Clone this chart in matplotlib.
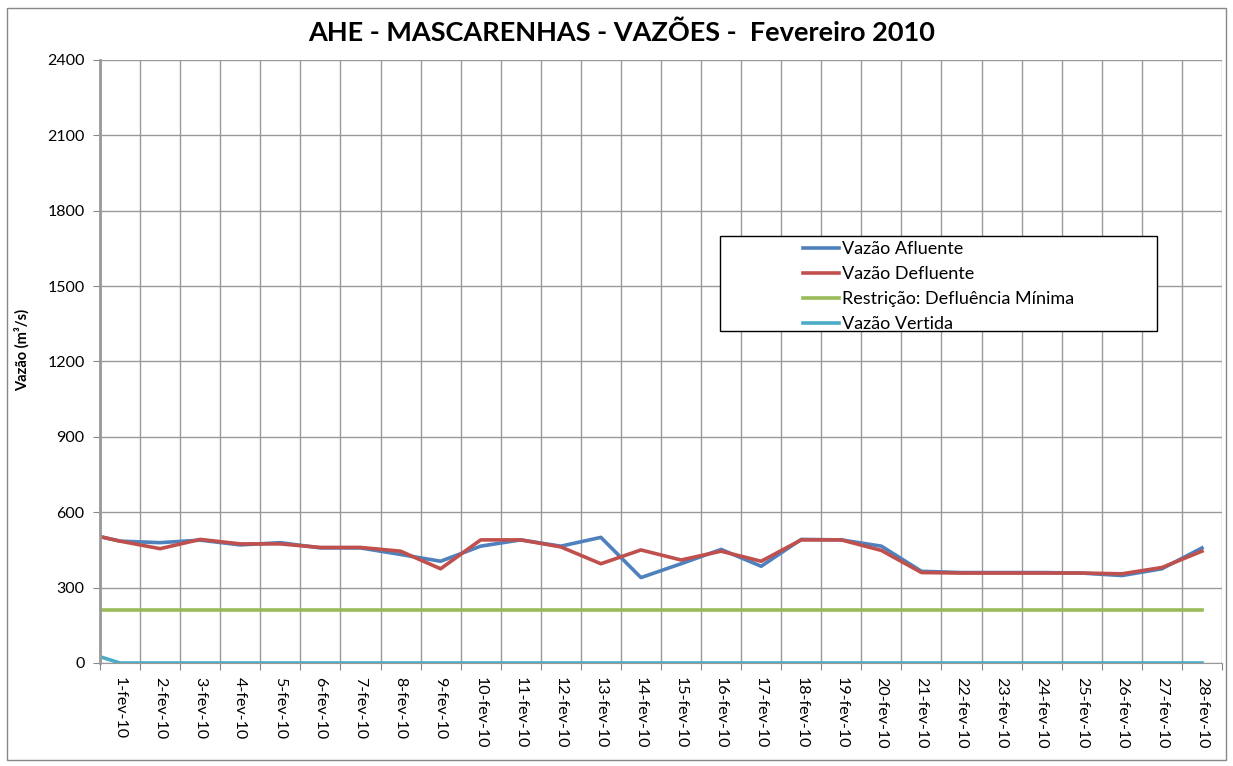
import matplotlib.pyplot as plt
from matplotlib.patches import Rectangle

plt.rcParams['font.family'] = ['Lato', 'DejaVu Sans']

days = [f"{d}-fev-10" for d in range(1, 29)]

# first value sits on the left edge (previous day), then one per day
afluente = [503, 485, 479, 489, 470, 479, 458, 458, 432, 405, 465, 490, 465, 500,
            340, 395, 452, 385, 492, 490, 465, 365, 360, 360, 360, 358, 348, 375, 458]
defluente = [503, 485, 455, 492, 474, 474, 460, 460, 445, 375, 490, 490, 462, 395,
             450, 410, 445, 405, 490, 490, 448, 360, 358, 358, 358, 358, 355, 380, 445]
restricao = [211] * 29
vertida = [25] + [0] * 28

xs = [0.5] + list(range(1, 29))

W, H = 1233, 766
fig = plt.figure(figsize=(W / 100, H / 100), dpi=100)
ax = fig.add_axes([100 / W, 1 - 663 / H, 1122 / W, 603 / H])

ax.plot(xs, afluente, color='#4F81BD', lw=2.6, label='Vazão Afluente', solid_joinstyle='round')
ax.plot(xs, defluente, color='#C0504D', lw=2.6, label='Vazão Defluente', solid_joinstyle='round')
ax.plot(xs, restricao, color='#9BBB59', lw=2.6, label='Restrição: Defluência Mínima')
ax.plot(xs, vertida, color='#4BACC6', lw=2.6, label='Vazão Vertida', solid_joinstyle='round')

ax.set_xlim(0.5, 28.5)
ax.set_ylim(0, 2400)
ax.set_yticks(range(0, 2401, 300))
ax.set_xticks([i + 0.5 for i in range(0, 29)])
ax.set_xticklabels([])
ax.set_xticks(range(1, 29), minor=True)
ax.set_xticklabels(days, minor=True, rotation=270, fontsize=11.5)
ax.tick_params(axis='x', which='minor', length=0, pad=10)
ax.tick_params(axis='x', which='major', length=5, color='#888888')
ax.tick_params(axis='y', length=5, color='#888888', labelsize=11.5, pad=6)
ax.grid(True, which='major', color='#999999', lw=1)
ax.set_axisbelow(True)
for side in ['top', 'right']:
    ax.spines[side].set_visible(False)
ax.spines['left'].set_color('#999999')
ax.spines['left'].set_linewidth(2)
ax.spines['bottom'].set_color('#999999')

ax.set_ylabel('Vazão (m³/s)', fontsize=10.5, fontweight='bold')
ax.yaxis.set_label_coords(-(100 - 30) / 1122, 0.52)

fig.text(622 / W, 1 - 33 / H, 'AHE - MASCARENHAS - VAZÕES -  Fevereiro 2010',
         ha='center', va='center', fontsize=19.5, fontweight='bold')

leg = ax.legend(loc='upper left', bbox_to_anchor=(0.62, 0.712), frameon=False,
                fontsize=13, handlelength=2.0, handletextpad=0.15, labelspacing=0.5,
                borderaxespad=0)
leg.set_zorder(3)
# legend box drawn separately: the entries sit well right of its left edge
ax.add_patch(Rectangle(((720 - 100) / 1122, 1 - (331 - 60) / 603),
                       (1157 - 720) / 1122, (331 - 236) / 603, transform=ax.transAxes,
                       facecolor='white', edgecolor='black', lw=1, zorder=2.5))

fig.add_artist(Rectangle((7 / W, 1 - 760 / H), 1219 / W, 752 / H,
                         transform=fig.transFigure, fill=False, edgecolor='#888888', lw=1))

fig.savefig('out.png', dpi=100)
